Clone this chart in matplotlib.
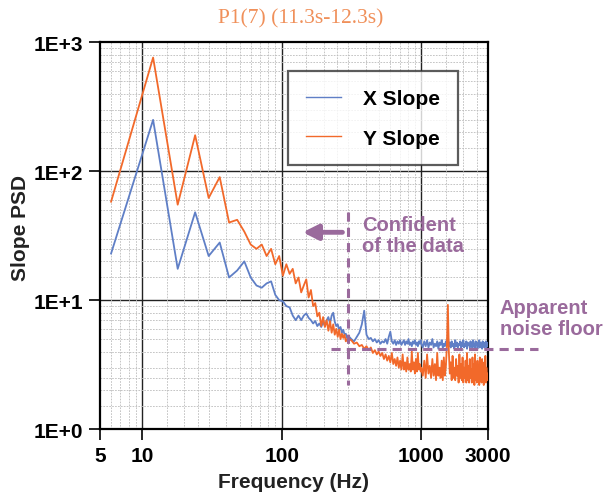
import matplotlib
matplotlib.use('Agg')
import matplotlib.pyplot as plt
from matplotlib.ticker import FixedLocator, FixedFormatter, LogLocator, NullFormatter

# frequency bins (Hz)
freq_low = list(range(6, 300, 6))
freq_mid = list(range(300, 1000, 15))
freq_high = list(range(1000, 3001, 25))

x_low = [23, 250, 17.5, 48, 22, 28, 15, 17, 20, 15,
         13, 12.5, 13.5, 14, 11, 10, 9.8, 9.0, 8.8, 7.6,
         7.0, 7.6, 7.0, 7.6, 7.9, 7.3, 7.0, 6.6, 6.9, 6.3,
         6.6, 6.2, 6.8, 6.3, 7.0, 7.4, 6.6, 7.6, 8.0, 6.8,
         6.3, 6.5, 5.9, 6.2, 5.6, 5.9, 5.4, 5.5, 5.1]
x_mid = [5.3, 5.0, 4.8, 5.2, 5.6, 6.5, 8.3, 5.4, 5.0, 5.1,
         4.8, 5.0, 4.7, 4.9, 4.6, 4.8, 4.7, 5.0, 4.6, 5.2,
         5.7, 4.8, 4.6, 4.9, 4.5, 4.8, 4.6, 4.9, 4.5, 4.7,
         4.9, 4.5, 4.8, 4.6, 5.0, 4.5, 4.7, 4.4, 4.8, 4.6,
         4.9, 4.5, 4.7, 4.4, 4.8, 4.6, 4.9]
x_high = [4.6, 4.3, 4.8, 4.4, 4.9, 4.3, 4.7, 4.5, 5.0, 4.3,
          4.6, 4.4, 4.8, 4.2, 4.7, 4.5, 4.9, 4.3, 4.6, 4.4,
          4.8, 4.5, 5.3, 4.4, 4.7, 4.3, 4.8, 4.4, 4.6, 4.2,
          4.9, 4.4, 4.7, 4.3, 4.6, 4.5, 4.8, 4.2, 4.7, 4.4,
          4.9, 4.3, 4.6, 4.4, 4.8, 4.2, 4.7, 4.5, 4.6, 4.3,
          4.8, 4.4, 4.7, 4.2, 4.9, 4.4, 4.6, 4.3, 4.8, 4.5,
          4.7, 4.2, 4.6, 4.4, 4.9, 4.3, 4.7, 4.4, 4.6, 4.2,
          4.8, 4.4, 4.7, 4.3, 4.6, 4.5, 4.8, 4.3, 4.7, 4.4,
          4.6]

y_low = [58, 760, 55, 190, 62, 90, 40, 42, 34, 27,
         25, 27, 22, 25, 19, 22, 15.5, 19, 16, 17.5,
         13.5, 15, 11.5, 13, 14.5, 10.5, 12, 9.0, 9.5, 7.5,
         8.0, 6.3, 7.4, 6.2, 7.0, 5.8, 6.9, 5.6, 6.5, 5.4,
         6.0, 5.2, 5.9, 5.0, 5.5, 5.1, 5.4, 4.8, 5.0]
y_mid = [5.0, 4.9, 4.6, 4.7, 4.4, 4.5, 4.2, 4.4, 4.1, 4.3,
         3.9, 4.1, 3.8, 4.0, 3.7, 3.9, 3.5, 3.8, 3.4, 3.7,
         3.3, 3.9, 3.2, 3.5, 3.1, 3.6, 3.0, 3.4, 2.9, 3.8,
         2.9, 3.3, 2.8, 3.6, 2.9, 3.2, 2.8, 4.0, 2.9, 3.3,
         2.7, 3.5, 2.8, 3.9, 2.9, 3.2, 2.8]
y_high = [3.0, 2.6, 3.4, 2.5, 3.8, 2.7, 3.1, 2.5, 3.5, 2.6,
          3.2, 2.4, 3.9, 2.6, 3.0, 2.5, 3.4, 2.4, 3.6, 2.6,
          3.1, 4.4, 9.2, 4.0, 2.7, 3.3, 2.4, 3.7, 2.5, 3.0,
          2.4, 3.5, 2.6, 3.1, 2.3, 3.8, 2.5, 3.2, 2.4, 3.6,
          2.3, 3.0, 2.5, 3.4, 2.3, 3.9, 2.4, 3.1, 2.3, 3.5,
          2.5, 2.9, 2.3, 3.6, 2.4, 3.2, 2.2, 3.8, 2.4, 3.0,
          2.3, 3.4, 2.5, 2.9, 2.2, 3.6, 2.4, 3.1, 2.3, 3.5,
          2.4, 2.8, 2.2, 3.3, 2.4, 3.7, 2.3, 3.0, 2.5, 2.7,
          2.4]

freq = freq_low + freq_mid + freq_high
x_slope = x_low + x_mid + x_high
y_slope = y_low + y_mid + y_high

x_ticks = [5, 10, 100, 1000, 3000]
y_ticks = [1, 10, 100, 1000]
y_labels = ['1E+0', '1E+1', '1E+2', '1E+3']

blue = '#5f7fc6'
orange = '#f2692a'
purple = '#9a6a9c'
sans = 'Liberation Sans'

fig = plt.figure(figsize=(6.08, 5.02), dpi=100)
ax = fig.add_axes([0.1645, 0.143, 0.638, 0.771])

ax.plot(freq, x_slope, color=blue, lw=1.3, label='X Slope', zorder=3)
ax.plot(freq, y_slope, color=orange, lw=1.3, label='Y Slope', zorder=4)

ax.set_xscale('log')
ax.set_yscale('log')
ax.set_xlim(5, 3000)
ax.set_ylim(1, 1000)

ax.xaxis.set_major_locator(FixedLocator(x_ticks))
ax.xaxis.set_major_formatter(FixedFormatter([str(t) for t in x_ticks]))
ax.yaxis.set_major_locator(FixedLocator(y_ticks))
ax.yaxis.set_major_formatter(FixedFormatter(y_labels))
for a in (ax.xaxis, ax.yaxis):
    a.set_minor_locator(LogLocator(base=10, subs=[1.5, 2, 2.5, 3, 4, 5, 6, 7, 8, 9], numticks=20))
    a.set_minor_formatter(NullFormatter())

ax.tick_params(which='major', direction='out', length=8, width=1.2, labelsize=15, pad=4)
ax.tick_params(which='minor', length=0)
for lab in ax.get_xticklabels() + ax.get_yticklabels():
    lab.set_fontfamily(sans)
    lab.set_fontweight('bold')

# decade grid (dark) and minor grid (light dotted)
for v in [10, 100, 1000]:
    ax.axvline(v, color='#222222', lw=1.0, zorder=1)
for v in [10, 100]:
    ax.axhline(v, color='#222222', lw=1.0, zorder=1)
ax.grid(which='minor', color='#bbbbbb', lw=0.6, ls=(0, (2, 1.5)), zorder=0)

for s in ax.spines.values():
    s.set_linewidth(1.6)

ax.set_xlabel('Frequency (Hz)', fontsize=15, fontweight='bold', family=sans, color='#222222', labelpad=5)
fig.text(0.034, 0.546, 'Slope PSD', rotation=90, ha='center', va='center', fontsize=15,
         fontweight='bold', family=sans, color='#222222')
fig.text(0.495, 0.963, 'P1(7) (11.3s-12.3s)', ha='center', va='center', fontsize=15.5,
         family='Liberation Serif', color='#f0905a')

leg = ax.legend(loc='upper left', bbox_to_anchor=(0.485, 0.925), frameon=True, fancybox=False,
                prop={'family': sans, 'weight': 'bold', 'size': 15}, handlelength=1.7,
                handletextpad=1.05, borderpad=0.85, labelspacing=1.0, borderaxespad=0)
leg.get_frame().set_edgecolor('#333333')
leg.get_frame().set_linewidth(1.6)
for h in leg.get_lines():
    h.set_linewidth(1.0)

# annotations
ax.plot([300, 300], [48, 2.2], color=purple, lw=2.2, ls=(0, (3, 2)), zorder=5)
ax.plot([225, 6800], [4.2, 4.2], color=purple, lw=2.2, ls=(0, (3, 2)), zorder=5, clip_on=False)
ax.annotate('', xy=(135, 33.6), xytext=(285, 33.6),
            arrowprops=dict(arrowstyle='-|>,head_width=0.45,head_length=0.9', color=purple, lw=3.5))
ax.text(375, 46, 'Confident\nof the data', color=purple, fontsize=14.5, fontweight='bold',
        family=sans, va='top', ha='left', linespacing=1.15)
fig.text(0.822, 0.325, 'Apparent\nnoise floor', color=purple, fontsize=14.5, fontweight='bold',
         family=sans, va='bottom', ha='left', linespacing=1.15)

fig.savefig('out.png', dpi=100)
